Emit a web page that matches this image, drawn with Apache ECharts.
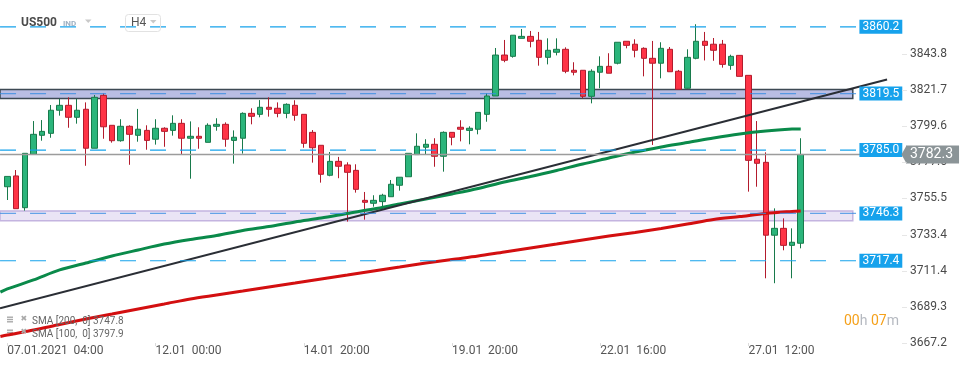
<!DOCTYPE html>
<html><head><meta charset="utf-8">
<script src="https://cdn.jsdelivr.net/npm/echarts@6/dist/echarts.min.js"></script>
<style>html,body{margin:0;padding:0;background:#fff}#c{width:970px;height:368px}</style>
</head><body><div id="c"></div>
<script>
// ---------- data ----------
const categoryCount = 103;
const tickEvery = 17;
const tickLabels = ['07.01.2021  04:00', '12.01  00:00', '14.01  20:00', '19.01  20:00', '22.01  16:00', '27.01  12:00'];

const opens = [3762.6,3769.2,3749.8,3782.4,3794.0,3795.2,3809.3,3812.3,3805.0,3809.9,
3786.1,3818.4,3800.1,3790.7,3799.5,3794.0,3797.0,3791.6,3798.3,3797.0,
3801.3,3792.2,3793.4,3789.7,3799.5,3800.7,3790.9,3792.2,3807.4,3806.8,
3811.1,3810.5,3807.4,3812.3,3806.8,3795.8,3787.9,3769.6,3778.1,3775.9,
3772.6,3754.3,3752.5,3753.5,3756.5,3763.5,3768.7,3782.2,3786.7,3788.5,
3781.2,3795.8,3798.9,3797.0,3797.7,3806.8,3818.0,3843.0,3842.2,3853.2,
3854.4,3852.0,3841.6,3844.7,3846.5,3833.7,3833.7,3817.8,3832.5,3836.1,
3838.0,3851.4,3849.6,3847.1,3841.0,3838.0,3846.5,3833.1,3822.7,3841.0,
3851.4,3849.6,3849.6,3836.7,3842.8,3830.6,3779.4,3777.5,3733.0,3737.2,
3726.8,3728.1];
const closes = [3768.9,3749.2,3783.0,3794.6,3796.4,3809.3,3812.3,3805.0,3809.3,3786.1,
3817.2,3799.2,3790.7,3799.5,3794.6,3797.7,3790.9,3798.3,3796.4,3801.3,
3792.2,3793.4,3792.2,3800.1,3800.7,3791.6,3792.8,3807.4,3805.6,3811.1,
3809.9,3807.4,3812.9,3806.2,3789.1,3786.4,3770.2,3778.1,3775.1,3771.4,
3761.0,3753.1,3754.3,3757.4,3764.1,3768.4,3783.0,3787.3,3788.5,3781.2,
3795.8,3792.8,3797.7,3798.3,3808.0,3818.0,3843.0,3839.8,3855.1,3854.4,
3851.4,3841.6,3845.9,3846.5,3833.1,3832.5,3817.8,3833.1,3836.1,3831.9,
3850.8,3848.9,3845.9,3841.0,3838.0,3847.1,3832.8,3822.1,3841.6,3851.4,
3848.9,3845.9,3837.3,3842.2,3830.0,3778.7,3776.9,3733.0,3737.2,3726.8,
3728.7,3782.3];
const lows = [3754.5,3749.2,3748.0,3782.4,3790.7,3792.5,3806.0,3798.6,3801.1,3775.4,
3786.1,3791.9,3789.5,3790.1,3776.0,3790.1,3785.2,3788.3,3787.0,3793.8,
3782.2,3767.5,3785.8,3789.7,3796.8,3787.0,3776.7,3782.8,3800.7,3805.0,
3805.4,3805.0,3804.4,3802.9,3786.4,3777.3,3765.1,3769.0,3767.8,3741.3,
3759.0,3742.5,3750.4,3750.4,3756.5,3760.2,3768.7,3782.2,3782.2,3774.8,
3771.8,3787.9,3790.3,3788.5,3794.6,3802.3,3818.0,3838.6,3841.4,3853.2,
3847.7,3836.5,3837.3,3842.8,3831.9,3830.6,3816.6,3813.5,3822.7,3831.9,
3837.3,3847.1,3841.6,3830.0,3788.1,3828.8,3832.8,3822.1,3822.5,3840.4,
3839.7,3839.5,3835.3,3834.0,3830.0,3759.6,3762.6,3706.7,3703.7,3723.8,
3706.7,3725.0];
const highs = [3768.9,3772.8,3783.0,3802.7,3803.3,3812.5,3816.2,3817.2,3816.2,3814.1,
3818.6,3819.6,3800.1,3803.8,3800.1,3810.1,3800.1,3803.8,3798.9,3806.2,
3803.8,3802.5,3798.9,3801.3,3804.4,3801.9,3797.0,3808.0,3810.5,3815.5,
3817.2,3814.1,3813.5,3815.4,3806.8,3797.2,3787.9,3783.8,3780.8,3777.5,
3776.3,3759.4,3757.4,3758.3,3766.7,3768.4,3783.0,3795.2,3791.6,3792.2,
3796.4,3795.8,3803.2,3799.5,3808.0,3819.6,3847.3,3852.2,3855.1,3858.9,
3857.7,3857.1,3853.2,3853.2,3847.7,3838.6,3833.7,3834.3,3842.2,3844.1,
3850.8,3851.4,3852.6,3847.7,3851.6,3850.8,3847.9,3833.9,3846.5,3861.8,
3857.1,3853.4,3852.2,3843.2,3842.8,3830.6,3802.7,3783.6,3749.4,3743.3,
3737.2,3792.2];

const yTicks = [3667.2, 3689.3, 3711.4, 3733.4, 3755.5, 3777.6, 3799.6, 3821.7, 3843.8];
const yMin = 3667.2, yMax = 3876.6;

const smaIdx = [-0.8,0,3,6,9,12,15,18,21,24,27,30,33,36,39,42,45,48,51,54,57,60,63,66,69,72,75,78,81,84,87,90,91];
const sma100 = [3698.3,3700.2,3705.7,3711.8,3716.0,3720.3,3724.0,3727.6,3730.4,3732.8,3735.9,3738.3,3741.1,3743.5,3746.3,3749.0,3752.1,3755.1,3758.2,3761.5,3765.5,3768.8,3772.5,3776.5,3780.1,3783.8,3786.9,3789.6,3792.4,3794.8,3796.6,3797.8,3797.9];
const sma200 = [3671.2,3672.1,3675.1,3678.5,3681.8,3684.9,3688.0,3691.0,3694.1,3696.5,3698.9,3701.4,3703.8,3706.3,3708.7,3711.2,3713.6,3716.0,3718.2,3720.3,3722.8,3725.2,3727.6,3730.1,3732.5,3734.7,3737.1,3739.8,3742.6,3744.4,3746.3,3747.5,3747.8];

const levels = [3860.2, 3785.0, 3717.4];
const zoneLevels = [3819.5, 3746.3];
const zoneBounds = [[3816.5, 3822.0], [3741.9, 3747.8]];
const lastPrice = 3782.3;
const trendIdx = [-0.84, 100.9];
const trendVal = [3688.4, 3828.05];
const overlayMin = -0.844;
const lineStartIdx = -0.84;
const levelEndIdx = 97.5;
const zoneEndIdx = 96.97;
const smaLegend = ['SMA [200,  0] 3747.8', 'SMA [100,  0] 3797.9'];

// ---------- build ----------
const categories = Array.from({length: categoryCount}, (_, i) =>
  (i % tickEvery === 0 && i / tickEvery < tickLabels.length) ? tickLabels[i / tickEvery] : '');
const showTick = (i) => i % tickEvery === 0 && i / tickEvery < tickLabels.length;
const ohlc = opens.map((o, i) => [o, closes[i], lows[i], highs[i]]);
const pairs = (xs, ys) => xs.map((x, i) => [x, ys[i]]);
const FONT = 'Roboto, "Noto Sans", sans-serif';
const BLUE = '#16a2ec';

const levelSeries = (v, color) => ({
  type: 'line', xAxisIndex: 1, yAxisIndex: 1, data: [[lineStartIdx, v], [levelEndIdx, v]],
  showSymbol: false, clip: false, z: 7, silent: true,
  lineStyle: {color: color, width: 1.2, type: [16, 14]},
  endLabel: {show: true, distance: 2, formatter: v.toFixed(1), color: '#fff', backgroundColor: BLUE,
             padding: [1, 3, 1, 3], fontSize: 12, lineHeight: 12, fontFamily: FONT}
});

const zoneStyles = [
  {color: 'rgba(72,82,182,0.38)', borderColor: '#3d4954', borderWidth: 1.5},
  {color: 'rgba(160,130,210,0.22)', borderColor: '#c4b4e0', borderWidth: 1.5}
];
const zoneAreas = zoneBounds.map((b, k) => [
  {coord: [lineStartIdx, b[1]], itemStyle: zoneStyles[k]},
  {coord: [zoneEndIdx, b[0]]}
]);

const chart = echarts.init(document.getElementById('c'), null, {renderer: 'canvas'});
chart.setOption({
  animation: false,
  backgroundColor: '#fff',
  grid: [
    {left: 3, right: 69, top: 0, bottom: 25, containLabel: false},
    {left: 0, right: 69, top: 0, bottom: 25, containLabel: false}
  ],
  xAxis: [{
    type: 'category', gridIndex: 0, data: categories, boundaryGap: true,
    axisLine: {show: false},
    axisTick: {show: true, interval: showTick, alignWithLabel: true, length: 3, lineStyle: {color: '#dcdcdc'}},
    axisLabel: {interval: showTick, align: 'left', margin: 2, color: '#555', fontSize: 12, fontFamily: FONT},
    splitLine: {show: false}
  }, {
    type: 'value', gridIndex: 1, min: overlayMin, max: categoryCount - 0.5, show: false
  }],
  yAxis: [{
    type: 'value', gridIndex: 0, position: 'right', min: yMin, max: yMax, scale: true,
    axisLine: {show: false},
    splitLine: {show: false},
    axisTick: {show: false},
    axisLabel: {customValues: yTicks, formatter: v => v.toFixed(1), margin: 9, color: '#4a4a4a', fontSize: 12, fontFamily: FONT}
  }, {
    type: 'value', gridIndex: 1, min: yMin, max: yMax, show: false
  }],
  series: [
    {
      type: 'candlestick', name: 'US500', xAxisIndex: 0, yAxisIndex: 0, data: ohlc, barWidth: 6, z: 2,
      itemStyle: {color: '#2bb57b', color0: '#ff3446', borderColor: '#187a4b', borderColor0: '#b31b2d', borderWidth: 1}
    },
    {
      type: 'line', name: 'SMA200', xAxisIndex: 1, yAxisIndex: 1, data: pairs(smaIdx, sma200), showSymbol: false, smooth: 0.3,
      clip: false, z: 3, lineStyle: {color: '#d30f10', width: 3}
    },
    {
      type: 'line', name: 'SMA100', xAxisIndex: 1, yAxisIndex: 1, data: pairs(smaIdx, sma100), showSymbol: false, smooth: 0.3,
      clip: false, z: 3, lineStyle: {color: '#0a8a4a', width: 3}
    },
    {
      type: 'line', name: 'zones', xAxisIndex: 1, yAxisIndex: 1, data: [], clip: false, z: 4,
      markArea: {silent: true, data: zoneAreas}
    },
    {
      type: 'line', name: 'trend', xAxisIndex: 1, yAxisIndex: 1, data: pairs(trendIdx, trendVal), showSymbol: false,
      clip: false, z: 6, lineStyle: {color: '#2a2e35', width: 2}
    },
    {
      type: 'line', name: 'last', xAxisIndex: 1, yAxisIndex: 1, data: [[lineStartIdx, lastPrice], [categoryCount - 0.5, lastPrice]],
      showSymbol: false, clip: false, z: 6, silent: true,
      lineStyle: {color: '#9c9c9c', width: 1.5, type: 'solid'},
      endLabel: {show: true, distance: 5, formatter: lastPrice.toFixed(1), color: '#fff', backgroundColor: '#8b9497',
                 padding: [2, 6, 2, 4], fontSize: 14, lineHeight: 14, fontFamily: FONT}
    }
  ].concat(levels.map(v => levelSeries(v, BLUE)))
   .concat(zoneLevels.map(v => levelSeries(v, 'rgba(55,140,225,0.75)')))
});

// overlay decorations
const py = chart.convertToPixel({yAxisIndex: 1}, lastPrice);
const gx = chart.convertToPixel({xAxisIndex: 1}, categoryCount - 0.5);
const tickMarks = yTicks.map(v => {
  const y = Math.round(chart.convertToPixel({yAxisIndex: 0}, v)) + 0.5;
  return {type: 'line', z: 50, shape: {x1: gx + 1, y1: y, x2: gx + 6, y2: y}, style: {stroke: '#e6e6e6', lineWidth: 1}};
});
const iconMenu = (x, y) => ({
  type: 'group', z: 100, children: [
    {type: 'rect', shape: {x: x, y: y, width: 6, height: 1.4}, style: {fill: '#a9a9a9'}},
    {type: 'rect', shape: {x: x, y: y + 2.3, width: 6, height: 1.4}, style: {fill: '#a9a9a9'}},
    {type: 'rect', shape: {x: x, y: y + 4.6, width: 6, height: 1.4}, style: {fill: '#a9a9a9'}}
  ]
});
chart.setOption({
  graphic: tickMarks.concat([
    {type: 'text', x: 21, y: 17, z: 100, style: {text: 'US500', fill: '#4b4b4b', font: 'bold 12px ' + FONT}},
    {type: 'text', x: 63, y: 19.5, z: 100, style: {text: 'IND', fill: '#9eb0c2', font: 'bold 8px ' + FONT}},
    {type: 'polygon', z: 100, shape: {points: [[85, 19.5], [91.5, 19.5], [88.25, 23]]}, style: {fill: '#c9c9c9'}},
    {type: 'rect', z: 100, shape: {x: 125.5, y: 14.5, width: 35, height: 17, r: 3}, style: {fill: 'rgba(255,255,255,0)', stroke: '#e2e2e2', lineWidth: 1}},
    {type: 'text', x: 131, y: 17, z: 101, style: {text: 'H4', fill: '#555', font: '12px ' + FONT}},
    {type: 'polygon', z: 101, shape: {points: [[150, 20], [156.5, 20], [153.25, 23.5]]}, style: {fill: '#c9c9c9'}},
    {type: 'polygon', z: 100, shape: {points: [[gx + 0.5, py], [gx + 5.5, py - 9], [gx + 5.5, py + 9]]}, style: {fill: '#8b9497'}},
    iconMenu(7, 316.5),
    {type: 'text', x: 20.5, y: 315, z: 100, style: {text: '✖', fill: '#a9a9a9', font: 'bold 8px "DejaVu Sans"'}},
    {type: 'text', x: 32, y: 316, z: 100, style: {text: smaLegend[0], fill: '#666', font: '10px ' + FONT}},
    iconMenu(7, 329.5),
    {type: 'text', x: 20.5, y: 328, z: 100, style: {text: '✖', fill: '#a9a9a9', font: 'bold 8px "DejaVu Sans"'}},
    {type: 'text', x: 32, y: 329, z: 100, style: {text: smaLegend[1], fill: '#666', font: '10px ' + FONT}},
    {type: 'text', x: 844, y: 314, z: 100, style: {
      text: '{o|00}{g|h} {o|07}{g|m}', font: '14px ' + FONT,
      rich: {o: {fill: '#f5a11b', fontSize: 14, fontFamily: FONT}, g: {fill: '#b5b9c0', fontSize: 14, fontFamily: FONT}}
    }}
  ])
});
</script>
</body></html>
